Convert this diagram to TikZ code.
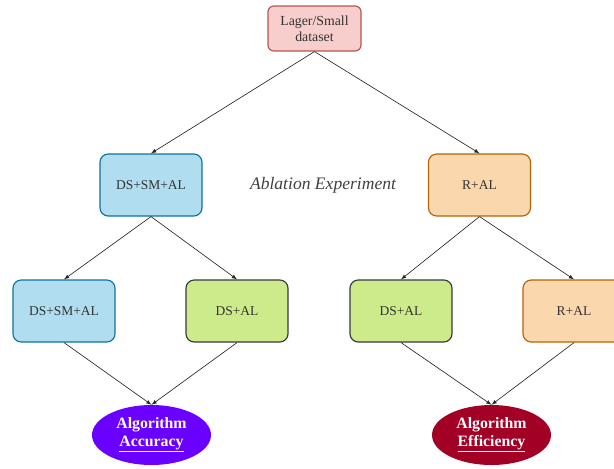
\documentclass[tikz,border=0pt]{standalone}
\usepackage{fontspec}
\setmainfont{Liberation Serif}
\usepackage{tikz}
\usetikzlibrary{arrows,shapes}
\definecolor{pinkfill}{HTML}{F8CECC}
\definecolor{pinkline}{HTML}{B85450}
\definecolor{bluefill}{HTML}{B1DDF0}
\definecolor{blueline}{HTML}{10739E}
\definecolor{greenfill}{HTML}{CDEB8B}
\definecolor{greenline}{HTML}{36393D}
\definecolor{orangefill}{HTML}{FAD7AC}
\definecolor{orangeline}{HTML}{B46504}
\definecolor{violet}{HTML}{6A00FF}
\definecolor{crimson}{HTML}{A20025}

\begin{document}
\begin{tikzpicture}[x=.03cm, y=-.03cm,
	box/.style={rectangle, rounded corners=7pt, line width=1pt, inner sep=0pt,
		minimum width=3.06cm, minimum height=1.86cm, font=\fontsize{11.5}{13}\selectfont, text=black!80},
	goal/.style={ellipse, inner sep=0pt, minimum width=3.57cm, minimum height=1.8cm,
		text=white, align=center, font=\fontsize{13.5}{15}\selectfont\bfseries},
	link/.style={->, >=latex, black!85, line width=.55pt}]
	\useasboundingbox (0,0) rectangle (614,468);
	% root
	\node[box, rounded corners=5pt, minimum width=2.79cm, minimum height=1.35cm, align=center,
		fill=pinkfill, draw=pinkline, font=\fontsize{11.8}{14}\selectfont] (data) at (314.5,28.5) {Lager/Small\\dataset};
	% middle row
	\node[box, fill=bluefill, draw=blueline] (dssm) at (151,185) {DS+SM+AL};
	\node[box, fill=orangefill, draw=orangeline] (ral) at (479.5,185) {R+AL};
	\node[font=\fontsize{15}{17}\selectfont\itshape, text=black!75] (abl) at (323,185) {Ablation Experiment};
	% bottom row
	\node[box, fill=bluefill, draw=blueline] (dssmb) at (64,311) {DS+SM+AL};
	\node[box, fill=greenfill, draw=greenline] (dsa) at (237,311) {DS+AL};
	\node[box, fill=greenfill, draw=greenline] (dsb) at (401,311) {DS+AL};
	\node[box, fill=orangefill, draw=orangeline] (ralb) at (574,311) {R+AL};
	% results
	\node[goal, fill=violet] (acc) at (151.5,435) {Algorithm\\\underline{Accuracy}};
	\node[goal, fill=crimson] (eff) at (491.5,435) {Algorithm\\\underline{Efficiency}};

	\draw[link] (data.south) -- (dssm.north);
	\draw[link] (data.south) -- (ral.north);
	\draw[link] (dssm.south) -- (dssmb.north);
	\draw[link] (dssm.south) -- (dsa.north);
	\draw[link] (ral.south) -- (dsb.north);
	\draw[link] (ral.south) -- (ralb.north);
	\draw[link] (dssmb.south) -- (acc.north);
	\draw[link] (dsa.south) -- (acc.north);
	\draw[link] (dsb.south) -- (eff.north);
	\draw[link] (ralb.south) -- (eff.north);
\end{tikzpicture}
\end{document}
